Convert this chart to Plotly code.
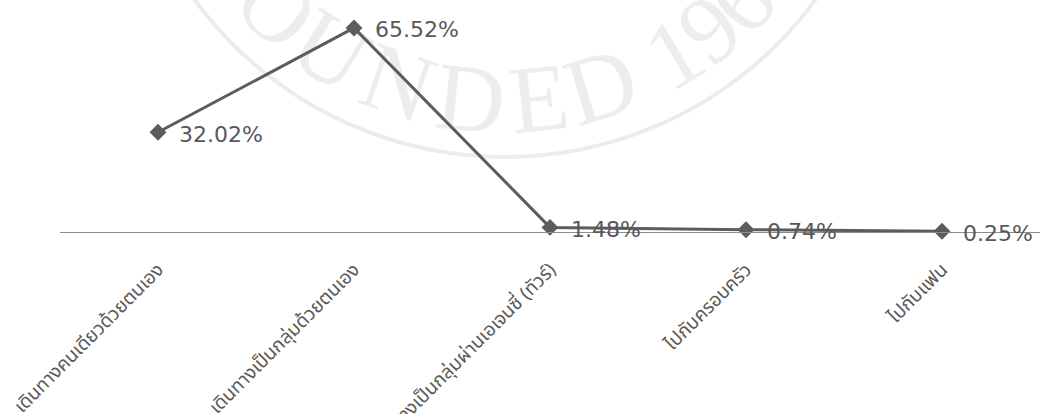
import numpy as np
import plotly.graph_objects as go

categories = [
    "เดินทางคนเดียวด้วยตนเอง",
    "เดินทางเป็นกลุ่มด้วยตนเอง",
    "เดินทางเป็นกลุ่มผ่านเอเจนซี่ (ทัวร์)",
    "ไปกับครอบครัว",
    "ไปกับแฟน",
]
values = [32.02, 65.52, 1.48, 0.74, 0.25]
value_labels = ["32.02%", "65.52%", "1.48%", "0.74%", "0.25%"]

# watermark (background seal) text
wm_letters = ["O", "U", "N", "D", "E", "D", "1", "9", "6"]
wm_angles = [44, 32, 19, 6, -6, -17, -31, -38.5, -46]

W, H = 1040, 414
L, R, T, B = 60, 0, 14, 182
PW, PH = W - L - R, H - T - B


def px2paper(px, py):
    return (px - L) / PW, (T + PH - py) / PH


fig = go.Figure()

fig.add_trace(go.Scatter(
    x=categories, y=values,
    mode="lines+markers",
    line=dict(color="#5c5c5c", width=3),
    marker=dict(symbol="diamond", size=13, color="#5c5c5c"),
    cliponaxis=False,
    hoverinfo="skip",
    showlegend=False,
))

for c, v, t in zip(categories, values, value_labels):
    fig.add_annotation(
        x=c, y=v, text=t, showarrow=False,
        xanchor="left", yanchor="middle", xshift=19, yshift=-2,
        font=dict(family="DejaVu Sans", size=22, color="#585858"),
    )

# watermark seal: circle + letters (drawn below the data)
shapes = []
cx, cy, rc, rl = 505, -228, 385, 318
x0, y0 = px2paper(cx - rc, cy + rc)
x1, y1 = px2paper(cx + rc, cy - rc)
shapes.append(dict(type="circle", xref="paper", yref="paper",
                   x0=x0, y0=y0, x1=x1, y1=y1,
                   line=dict(color="#ececec", width=4), layer="below"))
for ch, a in zip(wm_letters, wm_angles):
    ar = np.radians(a)
    px = cx - rl * np.sin(ar)
    py = cy + rl * np.cos(ar)
    xa, ya = px2paper(px - 20, py + 20)
    xb, yb = px2paper(px + 20, py - 20)
    shapes.append(dict(type="rect", xref="paper", yref="paper",
                       x0=xa, y0=ya, x1=xb, y1=yb,
                       line=dict(width=0), fillcolor="rgba(0,0,0,0)", layer="below",
                       label=dict(text=ch, textangle=a, textposition="middle center",
                                  font=dict(family="Liberation Serif", size=96, color="#ededed"))))

fig.update_layout(
    width=W, height=H,
    margin=dict(l=L, r=R, t=T, b=B, autoexpand=False),
    paper_bgcolor="white",
    plot_bgcolor="rgba(0,0,0,0)",
    shapes=shapes,
    xaxis=dict(
        type="category",
        range=[-0.5, len(categories) - 0.5],
        showline=True, linecolor="#8c8c8c", linewidth=1,
        showgrid=False, zeroline=False,
        ticks="", tickangle=-45, ticklabelstandoff=18,
        tickfont=dict(family="Tahoma, 'Noto Sans Thai', sans-serif", size=19, color="#595959"),
        automargin=False,
    ),
    yaxis=dict(
        range=[0, 70], visible=False, showgrid=False, zeroline=False,
    ),
)

fig.write_html("out.html")
